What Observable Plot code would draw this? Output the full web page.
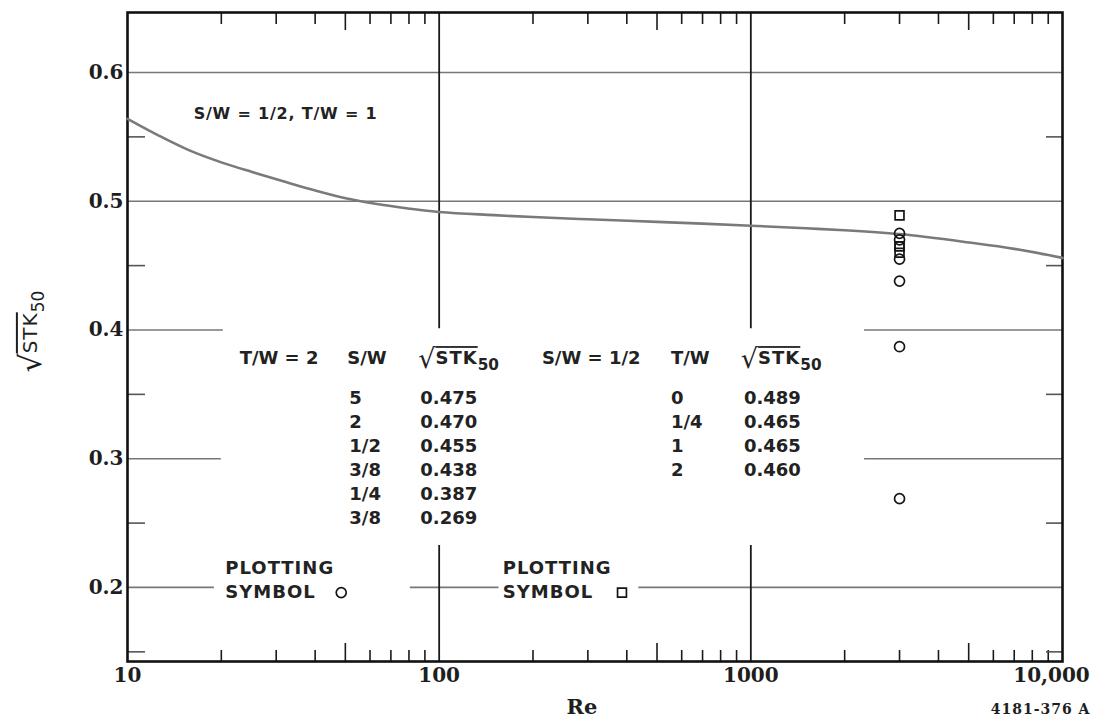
<!DOCTYPE html>
<html>
<head>
<meta charset="utf-8">
<script src="https://cdn.jsdelivr.net/npm/d3@7"></script>
<script src="https://cdn.jsdelivr.net/npm/@observablehq/plot@0.6"></script>
<style>
  html, body { margin: 0; padding: 0; background: #fff; }
  #chart svg { display: block; }
</style>
</head>
<body>
<div id="chart"></div>
<script>
// Fitted curve for S/W = 1/2, T/W = 1: Reynolds number vs √STK50
const curveRe  = [10, 12.6, 15.8, 20, 25.1, 31.6, 39.8, 50.1, 63.1, 79.4, 100, 150, 200, 300, 500, 700, 1000, 1500, 2000, 3000, 5000, 7000, 10000];
const curveStk = [0.564, 0.551, 0.5395, 0.5302, 0.5227, 0.5155, 0.5085, 0.5023, 0.4978, 0.4944, 0.4917, 0.4892, 0.4877, 0.486, 0.484, 0.4826, 0.481, 0.479, 0.4775, 0.4745, 0.468, 0.463, 0.456];

// Measurements taken at Re = 3000
const testRe = 3000;
// T/W = 2 series (circles)
const swLabels  = ["5", "2", "1/2", "3/8", "1/4", "3/8"];
const stkCircle = [0.475, 0.470, 0.455, 0.438, 0.387, 0.269];
// S/W = 1/2 series (squares)
const twLabels  = ["0", "1/4", "1", "2"];
const stkSquare = [0.489, 0.465, 0.465, 0.460];

// Table headers
const headerLabels = ["T/W = 2", "S/W", "√STK50", "S/W = 1/2", "T/W", "√STK50"];

// Axis ticks
const xTicks = [10, 100, 1000, 10000];
const xTickLabels = ["10", "100", "1000", "10,000"];
const yTicks = [0.2, 0.3, 0.4, 0.5, 0.6];
const yTickLabels = ["0.2", "0.3", "0.4", "0.5", "0.6"];
const yMinor = [0.15, 0.25, 0.35, 0.45, 0.55];
const xMinor = [10, 100, 1000].flatMap(d => [2, 3, 4, 5, 6, 7, 8, 9].map(k => k * d));

// ---- layout helpers ----
const yDomain = [0.1425, 0.6466];
const plotH = 726 - 12 - 65;
const vpp = (yDomain[1] - yDomain[0]) / plotH;      // y value per pixel
const decadePx = (1095 - 127 - 33) / 3;            // pixels per decade on x
const xShift = (x, px) => x * Math.pow(10, px / decadePx);
const rowY = i => 0.347 - i * 0.0187;
const headerX = [22.9, 50.7, 85.7, 213.6, 554, 929];
const keyY = [0.215, 0.196];
const fmt = d3.format(".3f");

const tableFont = {fontFamily: "DejaVu Sans", fontWeight: "bold", fontSize: 18, fill: "#222", textAnchor: "start"};
const gridStyle = {stroke: "#777", strokeWidth: 1.7};
const symbolStyle = {r: 5, fill: "none", stroke: "#151515", strokeWidth: 1.7};

// partial horizontal gridlines (broken around the table)
const hSegments = [
  {y: 0.4, x1: 10, x2: 20.3}, {y: 0.4, x1: 2317, x2: 10000},
  {y: 0.3, x1: 10, x2: 20.0}, {y: 0.3, x1: 2317, x2: 10000},
  {y: 0.2, x1: 10, x2: 19.0}, {y: 0.2, x1: 80.8, x2: 155.6}, {y: 0.2, x1: 437, x2: 10000}
];
// vertical decade lines, broken around the table
const vSegments = [100, 1000].flatMap(x => [
  {x, y1: 0.401, y2: yDomain[1]}, {x, y1: yDomain[0], y2: 0.2326}
]);

const chart = Plot.plot({
  width: 1095,
  height: 726,
  marginLeft: 127,
  marginRight: 33,
  marginTop: 12,
  marginBottom: 65,
  x: {type: "log", domain: [10, 10000], axis: null},
  y: {domain: yDomain, axis: null},
  style: {fontFamily: "DejaVu Serif", fontSize: "21px", color: "#1e1e1e", background: "#fff"},
  marks: [
    // gridlines
    Plot.ruleY([0.6, 0.5], {y: d => d, ...gridStyle}),
    Plot.ruleY(hSegments, {y: "y", x1: "x1", x2: "x2", ...gridStyle}),
    Plot.ruleX(vSegments, {x: "x", y1: "y1", y2: "y2", stroke: "#1a1a1a", strokeWidth: 1.8}),

    // inward minor ticks on x (top and bottom)
    Plot.ruleX(xMinor, {x: d => d, y1: () => yDomain[1], y2: d => yDomain[1] - (String(d)[0] === "5" ? 18 : 12) * vpp, stroke: "#1a1a1a", strokeWidth: 1.6}),
    Plot.ruleX(xMinor, {x: d => d, y1: () => yDomain[0], y2: d => yDomain[0] + (String(d)[0] === "5" ? 18 : 11) * vpp, stroke: "#1a1a1a", strokeWidth: 1.6}),
    // inward minor ticks on y (left and right)
    Plot.ruleY(yMinor, {y: d => d, x1: () => 10, x2: () => xShift(10, 18), stroke: "#555", strokeWidth: 1.6}),
    Plot.ruleY(yMinor, {y: d => d, x1: () => xShift(10000, -16), x2: () => 10000, stroke: "#555", strokeWidth: 1.6}),

    // frame
    Plot.frame({stroke: "#111", strokeWidth: 2.6}),

    // fitted curve
    Plot.line(curveRe, {x: d => d, y: (d, i) => curveStk[i], stroke: "#7a7a7a", strokeWidth: 2.6, curve: "monotone-x"}),

    // measured points
    Plot.dot(stkCircle, {x: () => testRe, y: d => d, symbol: "circle", ...symbolStyle}),
    Plot.dot(stkSquare, {x: () => testRe, y: d => d, symbol: "square", ...symbolStyle}),

    // y tick labels
    Plot.text(yTicks, {frameAnchor: "left", y: d => d, text: (d, i) => yTickLabels[i], textAnchor: "end", dx: -4, fontSize: 20, fontWeight: "bold"}),
    // x tick labels
    Plot.text(xTicks.slice(0, 3), {frameAnchor: "bottom", x: d => d, text: (d, i) => xTickLabels[i], lineAnchor: "top", dy: 6, fontSize: 20, fontWeight: "bold"}),
    Plot.text(xTicks.slice(3), {frameAnchor: "bottom", x: d => d, text: () => xTickLabels[3], lineAnchor: "top", dy: 6, dx: -11, fontSize: 20, fontWeight: "bold"}),

    // axis titles
    Plot.text(["Re"], {frameAnchor: "bottom", x: () => 287, lineAnchor: "top", dy: 38, fontSize: 21, fontWeight: "bold"}),
    Plot.text(["√STK50"], {frameAnchor: "left", y: () => 0.367, dx: -97, rotate: -90, textAnchor: "start", fontFamily: "DejaVu Sans", fontSize: 20}),
    Plot.text(["4181-376 A"], {frameAnchor: "bottom-right", textAnchor: "end", lineAnchor: "middle", dx: 28, dy: 48, fontSize: 14, fontWeight: "bold"}),

    // curve label
    Plot.text(["S/W = 1/2, T/W = 1"], {x: () => 16.3, y: () => 0.568, ...tableFont, fontSize: 16}),

    // table
    Plot.text(headerLabels, {x: (d, i) => headerX[i], y: () => 0.378, text: d => d, ...tableFont}),
    Plot.text(swLabels, {x: () => 51.5, y: (d, i) => rowY(i), text: d => d, ...tableFont}),
    Plot.text(stkCircle, {x: () => 87, y: (d, i) => rowY(i), text: d => fmt(d), ...tableFont}),
    Plot.text(twLabels, {x: () => 554, y: (d, i) => rowY(i), text: d => d, ...tableFont}),
    Plot.text(stkSquare, {x: () => 950, y: (d, i) => rowY(i), text: d => fmt(d), ...tableFont}),

    // plotting-symbol key
    Plot.text(["PLOTTING", "SYMBOL"], {x: () => 20.6, y: (d, i) => keyY[i], text: d => d, ...tableFont}),
    Plot.text(["PLOTTING", "SYMBOL"], {x: () => 160, y: (d, i) => keyY[i], text: d => d, ...tableFont}),
    Plot.dot(["circle"], {x: () => 48.5, y: () => keyY[1], symbol: "circle", ...symbolStyle}),
    Plot.dot(["square"], {x: () => 386, y: () => keyY[1], symbol: "square", ...symbolStyle})
  ]
});

// typeset √STK50 with a vinculum and subscript
d3.select(chart).selectAll("text").filter(function () { return this.textContent === "√STK50"; }).each(function () {
  const t = d3.select(this);
  t.text(null);
  t.append("tspan").attr("font-size", "1.5em").attr("font-weight", "normal").attr("dy", "0.14em").text("√");
  t.append("tspan").attr("dy", "-0.21em").attr("text-decoration", "overline").style("letter-spacing", "1px").text("STK");
  t.append("tspan").attr("font-size", "0.85em").attr("dy", "0.4em").text("50");
});
d3.select(chart).selectAll("text").filter(function () { return this.textContent === "S/W = 1/2, T/W = 1"; })
  .style("letter-spacing", "0.8px");
d3.select(chart).selectAll("text").filter(function () { return this.textContent === "4181-376 A"; })
  .style("letter-spacing", "1px");
d3.select(chart).selectAll("text").filter(function () { return this.textContent === "PLOTTING" || this.textContent === "SYMBOL"; })
  .style("letter-spacing", "1px");

document.getElementById("chart").append(chart);
</script>
</body>
</html>
